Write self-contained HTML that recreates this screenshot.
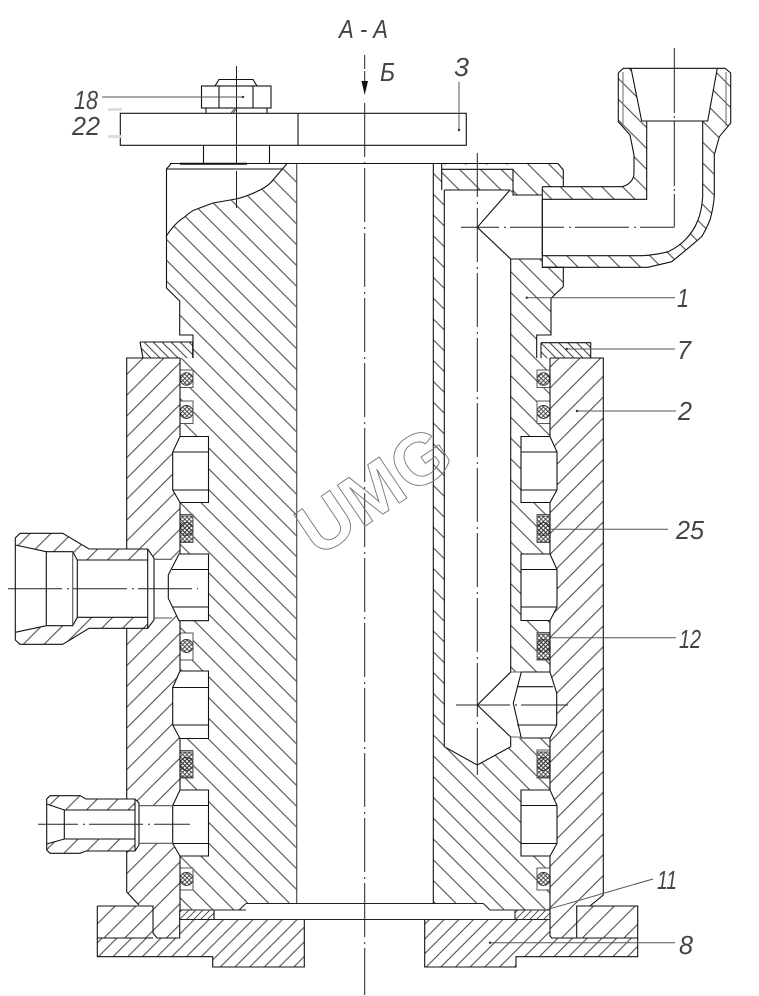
<!DOCTYPE html>
<html>
<head>
<meta charset="utf-8">
<style>
html,body{margin:0;padding:0;background:#fff;width:759px;height:996px;overflow:hidden}
svg{display:block}
text{font-family:"Liberation Sans",sans-serif;font-style:italic;fill:#444;font-size:26px}
</style>
</head>
<body>
<svg width="759" height="996" viewBox="0 0 759 996" xmlns="http://www.w3.org/2000/svg">
<defs>
<pattern id="b" width="20.8" height="20.8" patternUnits="userSpaceOnUse" patternTransform="translate(0 10.5)"><path d="M0 0L20.8 20.8M-1 19.8L1 21.8M19.8 -1L21.8 1" stroke="#444" stroke-width="1" fill="none"/></pattern>
<pattern id="e" width="20.8" height="20.8" patternUnits="userSpaceOnUse" patternTransform="translate(3 4)"><path d="M0 0L20.8 20.8M-1 19.8L1 21.8M19.8 -1L21.8 1" stroke="#444" stroke-width="1" fill="none"/></pattern>
<pattern id="f" width="20.8" height="20.8" patternUnits="userSpaceOnUse" patternTransform="translate(2 0)"><path d="M0 20.8L20.8 0M-1 1L1 -1M19.8 21.8L21.8 19.8" stroke="#444" stroke-width="1" fill="none"/></pattern>
<pattern id="g" width="14.7" height="14.7" patternUnits="userSpaceOnUse" patternTransform="translate(11.3 0)"><path d="M0 14.7L14.7 0M-1 1L1 -1M13.7 15.7L15.7 13.7" stroke="#444" stroke-width="1" fill="none"/></pattern>
<pattern id="h" width="9" height="9" patternUnits="userSpaceOnUse"><path d="M0 0L9 9M-1 8L1 10M8 -1L10 1" stroke="#444" stroke-width="1" fill="none"/></pattern>
<pattern id="i" width="7" height="7" patternUnits="userSpaceOnUse"><path d="M0 7L7 0M-1 1L1 -1M6 8L8 6" stroke="#444" stroke-width=".9" fill="none"/></pattern>
<pattern id="x" width="4.4" height="4.4" patternUnits="userSpaceOnUse"><path d="M0 0L4.4 4.4M0 4.4L4.4 0" stroke="#333" stroke-width=".8" fill="none"/></pattern>
</defs>

<!-- hatched bodies -->
<g stroke="none">
<path fill="url(#b)" d="M166 236.7C172 227 178 221 185 216.7C190 212 193 210 197 209L213 203L236 199C245 197 252 194 260 190C266 187 270 184 273 180L286.7 164H296.7V903.5H246L239 910H180V358H193V335H180V301L166 288Z"/>
<path fill="url(#f)" d="M126.7 358H180V938H157L153 933V906H139L126.7 892Z"/>
<path fill="url(#g)" d="M97.3 938H180V919.5H304.3V967H212.7V956.7H97.3Z"/>
<path fill="url(#g)" d="M424.7 919.5H550V938H637.7V956.7H516V967H424.7Z"/>
<path fill="url(#f)" d="M97.3 906H153V938H97.3Z"/>
<path fill="url(#f)" d="M550 358H603.3V895L590 906H576.7V938H551.7L550 936Z"/>
<path fill="url(#f)" d="M576.7 906H637.7V938H576.7Z"/>
<path fill="url(#b)" d="M433.3 164H558L563.3 170V187H542.3V267H563.3V286.7L551 298.3V335H536.7V358H550V910H490L483.3 903.5H433.3Z"/>
<path fill="url(#h)" d="M140 342H192.7V358H143Z"/>
<path fill="url(#h)" d="M541 342.7H590.7V358.3H541Z"/>
<path fill="url(#i)" d="M180 910H214V919.5H180Z"/>
<path fill="url(#i)" d="M515 910.3H550V919.5H515Z"/>
</g>

<!-- voids -->
<g fill="#fff" stroke="none">
<path d="M444.3 190H510L515 195H542.3V259H510.7V746.7L477.3 765L444.3 746.7Z"/>
<rect x="510" y="672" width="12" height="66"/>
<rect x="441.7" y="164.500" width="71.300" height="25.500"/>
<path d="M208.5 436.5H180L172.7 452V490L180 502.5H208.5Z"/>
<path d="M208.5 554H179L168.3 575V598.3L179 620.7H208.5Z"/>
<path d="M208.5 671H180L172.7 687.5V725L180 738.5H208.5Z"/>
<path d="M208.5 790H180L172.7 805.5V843.5L180 856H208.5Z"/>
<path d="M521 436.5H550L557 452V490L550 502.5H521Z"/>
<path d="M521 554H550L557 569.5V607L550 620.5H521Z"/>
<path d="M521.3 672H550L556.7 693V725L550 738H521.3L513.3 703.3Z"/>
<path d="M521 790H550L557 805.5V843.5L550 856H521Z"/>
<rect x="154" y="559" width="18" height="59"/>
<rect x="139" y="805.7" width="36" height="37.6"/>
<rect x="180" y="370" width="13" height="17.5"/>
<rect x="180" y="401" width="13" height="22.5"/>
<rect x="180" y="514.5" width="13" height="28"/>
<rect x="180" y="633" width="13" height="27"/>
<rect x="180" y="750.5" width="13" height="27.5"/>
<rect x="180" y="868" width="13" height="22"/>
<rect x="537" y="370" width="13" height="17.5"/>
<rect x="537" y="401" width="13" height="22.5"/>
<rect x="537" y="514.5" width="13" height="28"/>
<rect x="537" y="632.5" width="13" height="27.5"/>
<rect x="537" y="750" width="13" height="28"/>
<rect x="537" y="868" width="13" height="22"/>
<rect x="214" y="910" width="301" height="9.5"/>
</g>
<path fill="url(#e)" d="M441.7 169.3H513V190H441.7Z"/>

<!-- elbow -->
<path fill="#fff" d="M618.3 73L623.3 68.3H725L730.7 73V123L719.3 136.7L714.3 155V196.7C713.5 205 712 213 710 220C707 227 704.500 232 701.7 236.7L690 246.7L671.7 261.7L648 267.3H542.3V186.7H621.7C629 185 634 180 634 173V155L630 135L618.300 121.700Z"/>
<path fill="url(#e)" d="M618.3 73L623.3 68.3H725L730.7 73V123L719.3 136.700L714.3 155V196.7C713.5 205 712 213 710 220C707 227 704.500 232 701.7 236.7L690 246.7L671.7 261.7L648 267.3H542.3V186.7H621.7C629 185 634 180 634 173V155L630 135L618.300 121.700Z"/>
<path fill="#fff" d="M631 68.3H717.3L707.7 121H702.7V196.700C702 206 701 213 698 220C695 228 690 235 685 240C680 245 674 249 668 251.700C660 254 652 255 643 255.700H542.3V199.3H646.7V121H641.7Z"/>

<!-- fitting 1 -->
<path fill="#fff" d="M15.3 538L20 533.300H62.700L89 549H147.700L154 558V620L147.700 628.300H89L62.700 644.300H20L15.300 640Z"/>
<path fill="url(#f)" d="M15.3 538L20 533.300H62.700L89 549H147.700V628.300H89L62.700 644.300H20L15.300 640Z"/>
<path fill="#fff" d="M15.300 545L46.300 551.700H72.700L77.300 560H147.700V617.300H77.300L72.700 625.700H46.300L15.300 632.300Z"/>
<!-- fitting 2 -->
<path fill="#fff" d="M46.700 799L50 795.700H80L86 799H135L139 803V845L135 851H86L80 853.300H50L46.700 850Z"/>
<path fill="url(#f)" d="M46.700 799L50 795.700H80L86 799H135V851H86L80 853.300H50L46.700 850Z"/>
<path fill="#fff" d="M46.700 804L64.300 810H135V839H64.300L46.700 844Z"/>

<!-- seals -->
<g stroke="#333" stroke-width=".9" fill="url(#x)">
<circle cx="186.500" cy="379" r="6.300"/>
<circle cx="186.500" cy="412" r="6.500"/>
<rect x="180" y="516" width="13" height="26"/><circle cx="186.500" cy="529" r="6.500"/>
<circle cx="186.500" cy="646" r="6.500"/>
<rect x="180" y="752" width="13" height="25"/><circle cx="186.500" cy="764" r="6.500"/>
<circle cx="186.500" cy="879" r="6.500"/>
<circle cx="543.500" cy="379" r="6.300"/>
<circle cx="543.500" cy="412" r="6.500"/>
<rect x="537" y="516" width="13" height="26"/><circle cx="543.500" cy="529" r="6.500"/>
<rect x="537" y="634" width="13" height="25"/><circle cx="543.500" cy="646" r="6.500"/>
<rect x="537" y="752" width="13" height="25"/><circle cx="543.500" cy="764" r="6.500"/>
<circle cx="543.500" cy="879" r="6.500"/>
</g>
<g stroke="#555" stroke-width="1" fill="none">
<rect x="180" y="370" width="13" height="17.500"/>
<rect x="180" y="401" width="13" height="22.500"/>
<rect x="180" y="514.500" width="13" height="28"/>
<rect x="180" y="633" width="13" height="27"/>
<rect x="180" y="750.500" width="13" height="27.500"/>
<rect x="180" y="868" width="13" height="22"/>
<rect x="537" y="370" width="13" height="17.500"/>
<rect x="537" y="401" width="13" height="22.500"/>
<rect x="537" y="514.500" width="13" height="28"/>
<rect x="537" y="632.500" width="13" height="27.500"/>
<rect x="537" y="750" width="13" height="28"/>
<rect x="537" y="868" width="13" height="22"/>
</g>

<!-- outlines -->
<g fill="none" stroke="#111" stroke-width="1.100">
<rect x="120.300" y="113.300" width="346" height="32" fill="#fff"/>
<path d="M298 113.300V145.300"/>
<rect x="201.500" y="86" width="69.500" height="22"/>
<path d="M219 86V108M253 86V108M215 86L219 79.500H253L257 86M206 108V113M267 108V113M203.500 145.500V163.500M269.500 145.500V163.500"/>
<path stroke="#555" d="M231 113L235 108.500M233 113L237 108.500"/>
<path d="M170 163.500H558L563.300 170V187"/>
<path stroke-width="2" d="M180 163.800H247"/>
<path d="M166.500 288V169L171 163.700M166.500 169H283"/>
<path d="M166 236.700C172 227 178 221 185 216.700C190 212 193 210 197 209L213 203L236 199C245 197 252 194 260 190C266 187 270 184 273 180L286.700 164"/>
<path d="M166.500 288L179.700 301V335H193V358"/>
<path stroke="#444" d="M296.700 164V903.500"/>
<path stroke="#111" d="M433.300 164V903.500M444.300 190V746.700L477.300 765L510.700 746.700V737L477.300 705L510.700 672V259L477.300 227.300L510 190M444.300 190H510"/>
<path d="M441.700 164V190M441.700 169.300H513V195H542.300"/>
<path d="M510 259H542.300M542.300 186.700V267.300H563.300V286.700L551 298.300V335H536.700V358"/>
<path stroke="#666" d="M510 190L515 195M510.700 672H521.300M510.700 737H521.300"/>

<!-- elbow lines -->
<path d="M618.300 73L623.300 68.300H725L730.700 73V123L719.300 136.700L714.300 155V196.700C713.500 205 712 213 710 220C707 227 704.500 232 701.700 236.700L690 246.700L671.700 261.700L648 267.300H542.300"/>
<path d="M542.300 186.700H621.700C629 185 634 180 634 173V155L630 135L618.300 121.700V73"/>
<path d="M631 68.300L641.700 121H707.700L717.300 68.300M646.700 121V199.300H542.300M702.700 121V196.700C702 206 701 213 698 220C695 228 690 235 685 240C680 245 674 249 668 251.700C660 254 652 255 643 255.700H542.300V199.300"/>
<path stroke="#777" d="M623 72V126M726 72V126"/>

<!-- cylinder -->
<path d="M126.700 549V358H180M126.700 628.300V799M126.700 851V892L139 905"/>
<path d="M97.300 906H153V933L157 938H179.700V910M97.300 906V956.700H212.700V967H304.300V919.500H214V910M97.300 938H153"/>
<path d="M180 358V436.500M180 502.500V554M180 620.700V671M180 738.500V790M180 856V910"/>
<path d="M550 358V436.500M550 502.500V554M550 620.500V672M550 738V790M550 856V936L551.700 938H576.700V906H637.700V956.700H516V967H424.700V919.500M576.700 938H637.700M590 906L603.300 895V358H550"/>
<path stroke="#222" d="M180 910H246L239 910M246 903.500H483.300L490 910H550M239 910L246 903.500M214 919.500H550M214 910V919.500M515 910V919.500M180 919.500H214"/>
<path d="M140 342H192.700V358M140 342L143 358M541 342.700H590.700V358.300M541 342.700V358.300"/>

<!-- grooves -->
<path d="M208.500 436.500H180L172.700 452V490L180 502.500H208.500ZM172.700 452H208.500M172.700 490H208.500"/>
<path d="M208.500 554H179L168.300 575V598.300L179 620.700H208.500ZM172 569.500H208.500M172 607H208.500"/>
<path d="M208.500 671H180L172.700 687.500V725L180 738.500H208.500ZM172.700 687.500H208.500M172.700 725H208.500"/>
<path d="M208.500 790H180L172.700 805.500V843.500L180 856H208.500ZM172.700 805.500H208.500M172.700 843.500H208.500"/>
<path d="M521 436.500H550L557 452V490L550 502.500H521ZM521 452H557M521 490H557"/>
<path d="M521 554H550L557 569.500V607L550 620.500H521ZM521 569.500H557M521 607H557"/>
<path d="M521.300 672H550L556.700 693V725L550 738H521.300L513.300 703.300ZM517 686.700H553M517 725H556.700"/>
<path d="M521 790H550L557 805.500V843.500L550 856H521ZM521 805.500H557M521 843.500H557"/>

<!-- fittings lines -->
<path d="M15.300 538L20 533.300H62.700L89 549H147.700L154 558V620L147.700 628.300H89L62.700 644.300H20L15.300 640ZM147.700 549V628.300"/>
<path d="M15.300 545L46.300 551.700H72.700L77.300 560V617.300L72.700 625.700H46.300L15.300 632.300M46.300 551.700V625.700M77.300 560H147.700M77.300 617.300H147.700"/>
<path stroke="#555" d="M154 559.300H172M154 618H172M72.700 552V625"/>
<path d="M46.700 799L50 795.700H80L86 799H135L139 803V845L135 851H86L80 853.300H50L46.700 850ZM135 799V851"/>
<path d="M46.700 804L64.300 810H135M46.700 844L64.300 839H135M64.300 810V839"/>
<path stroke="#555" d="M139 805.700H173M139 843.300H173"/>
</g>

<!-- center lines -->
<g fill="none" stroke="#222" stroke-width="1">
<path d="M364.700 55V82" stroke-dasharray="14 2"/>
<path d="M364.700 103V995" stroke-dasharray="54 5 2 4"/>
<path d="M236.500 66V163M236.500 171V208"/>
<path d="M477.300 153V775" stroke-dasharray="54 5 2 4" stroke-dashoffset="10"/>
<path d="M674.300 48V227.300" stroke-dasharray="65 3 2 3 65 3 2 3"/>
<path d="M461 227.300H674.300" stroke-dasharray="54 5 2 4" stroke-dashoffset="16"/>
<path d="M8 588.700H198" stroke-dasharray="54 5 2 4"/>
<path d="M38 824.300H190" stroke-dasharray="54 5 2 4" stroke-dashoffset="14"/>
<path d="M456 705H568" stroke-dasharray="54 5 2 4"/>
</g>
<path d="M361.500 81H368L364.700 95Z" fill="#111"/>

<!-- leaders -->
<g fill="none" stroke="#555" stroke-width="1">
<path d="M102 97H243M459 81.700V130M526.700 297.700H675M566.700 349H675M577 411H676M551 529.300H668M550 637.700H676M543.300 910.700L653 879M490 942.700H675"/>
</g>
<g fill="#333">
<circle cx="243" cy="97" r="1.200"/><circle cx="459" cy="130" r="1.200"/><circle cx="526.700" cy="297.700" r="1.200"/><circle cx="566.700" cy="349" r="1.200"/><circle cx="577" cy="411" r="1.200"/><circle cx="490" cy="942.700" r="1.200"/>
</g>
<rect x="108" y="108" width="14" height="3" fill="#ddd"/>
<rect x="108" y="135" width="14" height="3" fill="#ddd"/>

<!-- watermark -->
<text x="318" y="558" transform="rotate(-34 318 558)" style="font-family:'Liberation Sans',sans-serif;font-style:normal;font-weight:bold;font-size:72px;fill:none;stroke:#777;stroke-width:.9">UMG</text>

<!-- labels -->
<text x="339" y="38" textLength="49" lengthAdjust="spacingAndGlyphs">А - А</text>
<text x="380" y="81" textLength="15" lengthAdjust="spacingAndGlyphs">Б</text>
<text x="74" y="109" textLength="24" lengthAdjust="spacingAndGlyphs">18</text>
<text x="72" y="135" textLength="28" lengthAdjust="spacingAndGlyphs">22</text>
<text x="454" y="76" textLength="15" lengthAdjust="spacingAndGlyphs">3</text>
<text x="677" y="307" textLength="12" lengthAdjust="spacingAndGlyphs">1</text>
<text x="677" y="359" textLength="14" lengthAdjust="spacingAndGlyphs">7</text>
<text x="678" y="420" textLength="14" lengthAdjust="spacingAndGlyphs">2</text>
<text x="676" y="539" textLength="28" lengthAdjust="spacingAndGlyphs">25</text>
<text x="679" y="648" textLength="22" lengthAdjust="spacingAndGlyphs">12</text>
<text x="657" y="889" textLength="20" lengthAdjust="spacingAndGlyphs">11</text>
<text x="679" y="954" textLength="14" lengthAdjust="spacingAndGlyphs">8</text>
</svg>
</body>
</html>
